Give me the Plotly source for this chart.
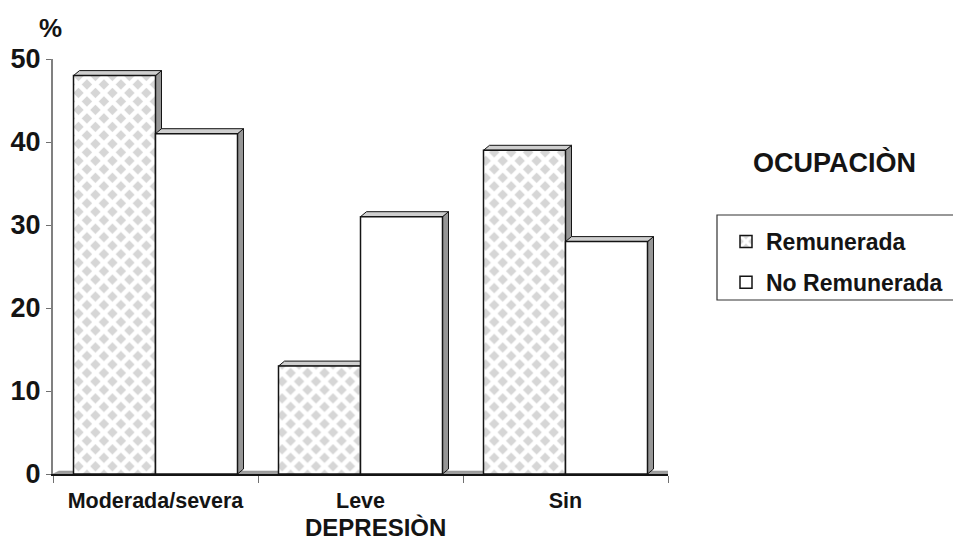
import plotly.graph_objects as go

# ---- data -------------------------------------------------------------
categories = ["Moderada/severa", "Leve", "Sin"]
remunerada = [48, 13, 39]
no_remunerada = [41, 31, 28]
series_names = ["Remunerada", "No Remunerada"]
y_ticks = [0, 10, 20, 30, 40, 50]

# ---- geometry ---------------------------------------------------------
W, H = 953, 542
M_L, M_R, M_T, M_B = 53, 285, 59, 68
PLOT_W = W - M_L - M_R
PLOT_H = H - M_T - M_B
X_RANGE = [-0.5, len(categories) - 0.5]
Y_RANGE = [0, 50]

BAR_W = 0.4
DEPTH_PX = (6, 5)     # extrusion of the 3-D faces (right, up)
FLOOR_PX = 3          # thickness of the floor slab

dxu = DEPTH_PX[0] * (X_RANGE[1] - X_RANGE[0]) / PLOT_W
dyu = DEPTH_PX[1] * (Y_RANGE[1] - Y_RANGE[0]) / PLOT_H
floor_u = FLOOR_PX * (Y_RANGE[1] - Y_RANGE[0]) / PLOT_H


def px_x(px):
    return (px - M_L) / PLOT_W


def px_y(py):
    return (H - M_B - py) / PLOT_H


FONT = "Liberation Sans, Arial, sans-serif"
INK = "#141414"

xs = list(range(len(categories)))
series = [
    (series_names[0], remunerada, -BAR_W),
    (series_names[1], no_remunerada, 0.0),
]

fig = go.Figure()

fig.add_trace(go.Bar(
    x=xs, y=remunerada, name=series_names[0], width=BAR_W, offset=-BAR_W,
    legendgroup="a",
    marker=dict(
        color="#d6d6d6",
        line=dict(color=INK, width=1.5),
        pattern=dict(shape="x", size=12, solidity=0.62, fgcolor="white",
                     bgcolor="#d6d6d6", fillmode="replace", fgopacity=1),
    ),
))
fig.add_trace(go.Bar(
    x=xs, y=no_remunerada, name=series_names[1], width=BAR_W, offset=0.0,
    legendgroup="b",
    marker=dict(color="white", line=dict(color=INK, width=1.5)),
))

# ---- 3-D faces (side + top) and floor, behind the front faces ---------
shapes = []
x0, x1 = X_RANGE
shapes.append(dict(
    type="path", xref="x", yref="y", layer="below",
    path=f"M{x0},0 L{x1},0 L{x1 + dxu},{floor_u} L{x0 + dxu},{floor_u} Z",
    fillcolor="#a0a0a0", line=dict(color="#8c8c8c", width=0.5),
))
for name, vals, off in series:
    for i, v in zip(xs, vals):
        xl = i + off
        xr = xl + BAR_W
        shapes.append(dict(
            type="path", xref="x", yref="y", layer="below",
            path=f"M{xr},0 L{xr},{v} L{xr + dxu},{v + dyu} L{xr + dxu},{dyu} Z",
            fillcolor="#969696", line=dict(color=INK, width=1),
        ))
        shapes.append(dict(
            type="path", xref="x", yref="y", layer="below",
            path=f"M{xl},{v} L{xl + dxu},{v + dyu} L{xr + dxu},{v + dyu} L{xr},{v} Z",
            fillcolor="#cfcfcf", line=dict(color=INK, width=1),
        ))

# legend frame (runs off the right edge)
shapes.append(dict(
    type="rect", xref="paper", yref="paper",
    x0=px_x(717), x1=px_x(W + 20), y0=px_y(300), y1=px_y(215),
    line=dict(color="#333333", width=1.2), fillcolor="rgba(0,0,0,0)",
))

fig.update_layout(
    width=W, height=H,
    margin=dict(l=M_L, r=M_R, t=M_T, b=M_B, pad=0, autoexpand=False),
    paper_bgcolor="white", plot_bgcolor="white",
    barmode="overlay",
    font=dict(family=FONT, color=INK, weight="bold"),
    shapes=shapes,
    showlegend=True,
    legend=dict(
        x=px_x(726), y=px_y(220), xanchor="left", yanchor="top",
        font=dict(size=23, family=FONT, color=INK, weight="bold"),
        bgcolor="rgba(0,0,0,0)", borderwidth=0,
        tracegroupgap=8, traceorder="grouped",
    ),
    xaxis=dict(
        range=X_RANGE, tickmode="array", tickvals=xs, ticktext=categories,
        ticks="", showgrid=False, zeroline=False,
        showline=True, linecolor=INK, linewidth=1.5,
        tickfont=dict(size=21.5, family=FONT, color=INK, weight="bold"),
        ticklabelstandoff=6,
        minor=dict(tickmode="array", tickvals=[x + 0.5 for x in [-1] + xs],
                   ticks="outside", ticklen=7, tickwidth=1.2, tickcolor="#707070"),
    ),
    yaxis=dict(
        range=Y_RANGE, tickmode="array", tickvals=y_ticks,
        ticks="outside", ticklen=5, tickwidth=1.2, tickcolor="#707070",
        showgrid=False, zeroline=False,
        showline=True, linecolor="#808080", linewidth=2,
        tickfont=dict(size=27, family=FONT, color=INK, weight="bold"),
    ),
    annotations=[
        dict(text="%", xref="paper", yref="paper", x=px_x(50), y=px_y(28),
             xanchor="center", yanchor="middle", showarrow=False,
             font=dict(size=26, family=FONT, color=INK, weight="bold")),
        dict(text="DEPRESIÒN", xref="paper", yref="paper", x=px_x(375), y=px_y(527),
             xanchor="center", yanchor="middle", showarrow=False,
             font=dict(size=24, family=FONT, color=INK, weight="bold")),
        dict(text="OCUPACIÒN", xref="paper", yref="paper", x=px_x(834), y=px_y(162),
             xanchor="center", yanchor="middle", showarrow=False,
             font=dict(size=27, family=FONT, color=INK, weight="bold")),
    ],
)

fig.write_html("out.html")
